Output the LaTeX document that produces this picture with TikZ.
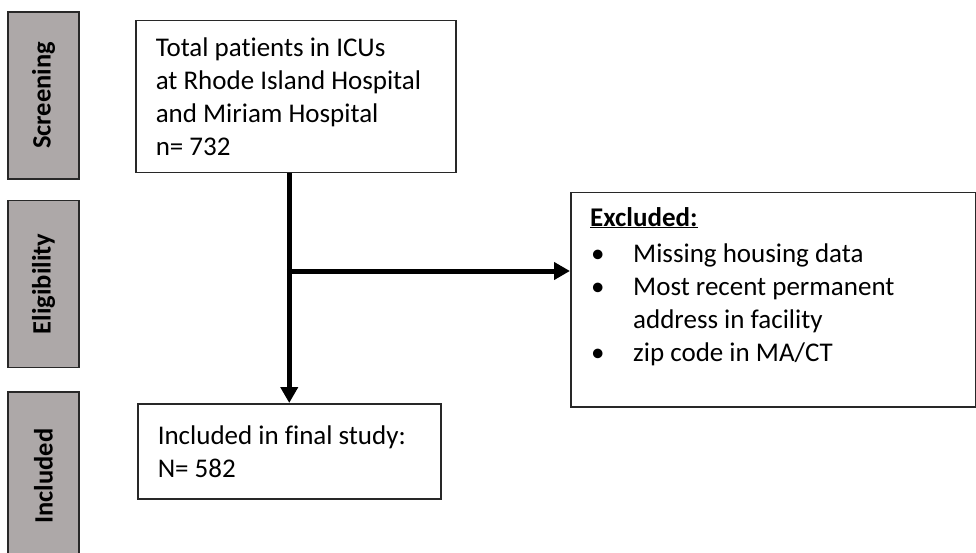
\documentclass[tikz,border=0pt]{standalone}
\usepackage{fontspec}
\setmainfont{Carlito}[Ligatures=NoCommon]
\usetikzlibrary{arrows.meta}
\definecolor{labelgray}{RGB}{173,168,168}
\definecolor{edgegray}{RGB}{40,40,40}
\begin{document}
\begin{tikzpicture}[x=1pt,y=-1pt,
  stage/.style={draw=edgegray, line width=1.5pt, fill=labelgray, rotate=90,
    minimum width=167pt, minimum height=71pt, inner sep=0pt,
    font=\fontsize{26.5}{30}\selectfont\bfseries},
  box/.style={draw=edgegray, line width=1.5pt, inner xsep=20pt,
    inner ysep=0pt, font=\fontsize{27}{33}\selectfont, anchor=north west},
  flow/.style={line width=5pt, -{Triangle[width=17pt,length=16pt]}}]
\clip (0,0) rectangle (976,553);
\useasboundingbox (0,0) rectangle (976,553);
% stage labels
\node[stage] (s1) at (43.5,95.5) {Screening};
\node[stage] (s2) at (43.5,284) {Eligibility};
\node[stage, minimum width=168pt] (s3) at (43.5,476) {Included};
% boxes
\node[box, minimum width=320pt, minimum height=152pt] (top) at (135,20)
  {\parbox{280pt}{\raggedright Total patients in ICUs\\at Rhode Island Hospital\\and Miriam Hospital\\n= 732}};
\node[box, minimum width=303pt, minimum height=95pt] (final) at (137,403)
  {\parbox{263pt}{\raggedright Included in final study:\\N= 582}};
\node[draw=edgegray, line width=1.5pt, minimum width=405pt, minimum height=214pt,
  anchor=north west, inner sep=0pt] (excl) at (570,192) {};
\node[anchor=base west, inner sep=0pt, font=\fontsize{27}{33}\selectfont] (excltext) at (590,226)
  {\parbox[t]{370pt}{\raggedright
   \textbf{\underline{Excluded:}}\\[3pt]
   \makebox[43pt][l]{\hspace{1pt}\textbullet}Missing housing data\\
   \makebox[43pt][l]{\hspace{1pt}\textbullet}Most recent permanent\\
   \hspace*{43pt}address in facility\\
   \makebox[43pt][l]{\hspace{1pt}\textbullet}zip code in MA/CT}};
% connectors
\coordinate (junc) at (final.north |- 0,271);
\draw[line width=5pt] (final.north |- top.south) -- (junc);
\draw[flow] (junc) -- (final.north);
\draw[flow] ([xshift=-2.5pt]junc) -- (junc -| excl.west);
\end{tikzpicture}
\end{document}
